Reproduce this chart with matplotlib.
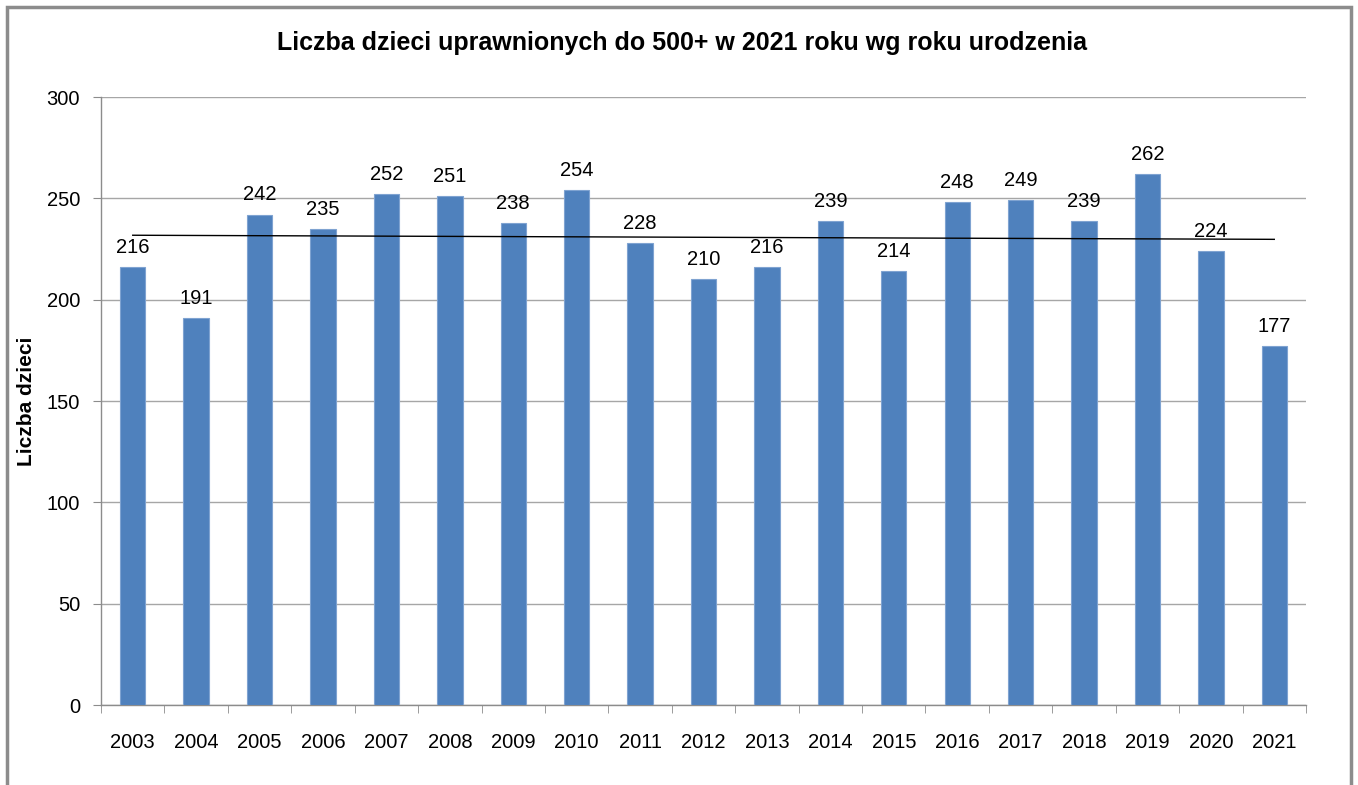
import numpy as np
import matplotlib.pyplot as plt
from matplotlib.patches import Rectangle

plt.rcParams['font.family'] = ['Liberation Sans', 'DejaVu Sans']

# dane
lata = ['2003', '2004', '2005', '2006', '2007', '2008', '2009', '2010', '2011', '2012',
        '2013', '2014', '2015', '2016', '2017', '2018', '2019', '2020', '2021']
liczba_dzieci = [216, 191, 242, 235, 252, 251, 238, 254, 228, 210,
                 216, 239, 214, 248, 249, 239, 262, 224, 177]
y_ticks = [0, 50, 100, 150, 200, 250, 300]

fig = plt.figure(figsize=(13.58, 7.85), dpi=100)
ax = fig.add_axes([0.0744, 0.1019, 0.8873, 0.7745])

# ramka wykresu
fig.patches.append(Rectangle((7 / 1358, -0.05), (1351 - 7) / 1358, 1.05 - 7 / 785,
                             transform=fig.transFigure, fill=False,
                             edgecolor='#8c8c8c', linewidth=2.5))

x = np.arange(len(lata))
ax.bar(x, liczba_dzieci, width=0.4, color='#4f81bd', edgecolor='#7fa3d1',
       linewidth=0.8, zorder=3)

for xi, v in zip(x, liczba_dzieci):
    ax.text(xi, v + 5, str(v), ha='center', va='bottom', fontsize=14.5, zorder=4)

# linia trendu
a, b = np.polyfit(x, liczba_dzieci, 1)
ax.plot(x, a * x + b, color='black', linewidth=1, zorder=4)

ax.set_xlim(-0.5, len(lata) - 0.5)
ax.set_ylim(0, 300)
ax.set_yticks(y_ticks)
ax.set_yticklabels([str(t) for t in y_ticks], fontsize=14.5)
ax.set_xticks(x)
ax.set_xticklabels(lata, fontsize=14.5)
ax.set_xticks(np.arange(-0.5, len(lata)), minor=True)
ax.tick_params(axis='x', which='major', length=0, pad=20)
ax.tick_params(axis='x', which='minor', length=6, color='#8c8c8c', direction='out')
ax.tick_params(axis='y', length=6, color='#8c8c8c', direction='out', pad=9)

ax.grid(axis='y', color='#a6a6a6', linewidth=1, zorder=0)
for s in ['top', 'right']:
    ax.spines[s].set_visible(False)
for s in ['left', 'bottom']:
    ax.spines[s].set_color('#8c8c8c')
    ax.spines[s].set_linewidth(1)

fig.text(26 / 1358, 1 - 401 / 785, 'Liczba dzieci', rotation=90, ha='center', va='center',
         fontsize=15, fontweight='bold')
fig.text(0.502, 0.945, 'Liczba dzieci uprawnionych do 500+ w 2021 roku wg roku urodzenia',
         ha='center', va='center', fontsize=18, fontweight='bold')

fig.savefig('out.png', dpi=100)
